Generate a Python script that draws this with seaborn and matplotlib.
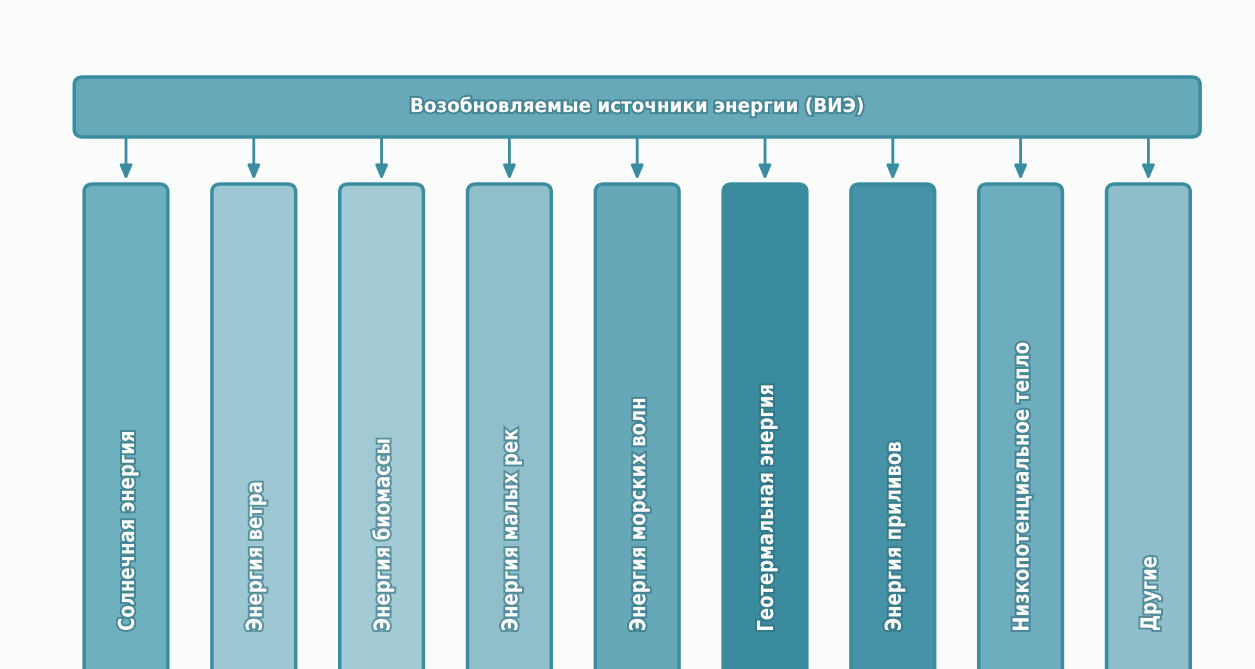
import numpy as np
import seaborn as sns
import matplotlib.pyplot as plt
from matplotlib.patches import FancyBboxPatch, PathPatch
from matplotlib.textpath import TextPath
from matplotlib.font_manager import FontProperties
from matplotlib.transforms import Affine2D
import matplotlib.patheffects as pe

# Diagram content
title = 'Возобновляемые источники энергии (ВИЭ)'
sources = ['Солнечная энергия', 'Энергия ветра', 'Энергия биомассы',
           'Энергия малых рек', 'Энергия морских волн', 'Геотермальная энергия',
           'Энергия приливов', 'Низкопотенциальное тепло', 'Другие']
box_colors = ['#6fb0bf', '#9dc8d3', '#a2cad5', '#90bfcb', '#66a8b8',
              '#3a8b9e', '#4692a6', '#6dadbd', '#8dbeca']

sns.set_theme(style='white')
plt.rcParams['font.family'] = ['DejaVu Sans']

W, H = 1255, 669
fig = plt.figure(figsize=(W / 100, H / 100), dpi=100)
fig.patch.set_facecolor('#fbfdfd')
ax = fig.add_axes([0, 0, 1, 1])
ax.set_facecolor('#fbfdfd')

# x in category units (one step per box), y in pixels from the top
step = 127.8
ax.set_xlim(-126 / step, (W - 126) / step)
ax.set_ylim(H, 0)
ax.axis('off')

edge = '#3b8c9e'
glow = [pe.withStroke(linewidth=2.8, foreground='#2c6d7c', alpha=0.6)]
bold = FontProperties(family='DejaVu Sans', weight='bold')


def squeezed_text(s, x, y, size, sx, rot=0, ha='left'):
    """white text drawn as a path, narrowed by sx (condensed look)"""
    tp = TextPath((0, 0), s, size=size, prop=bold)
    ext = tp.get_extents()
    cap = 0.729 * size
    dx = -ext.x0 if ha == 'left' else -(ext.x0 + ext.x1) / 2
    px, py = ax.transData.transform((x, y))
    tr = (Affine2D().translate(dx, -cap / 2).scale(sx, 1)
          .rotate_deg(rot).translate(px, py))
    ax.add_patch(PathPatch(tr.transform_path(tp), fc='white', ec='none',
                           transform=None, path_effects=glow, zorder=5))


# header bar
hdr = FancyBboxPatch((-0.405, 77), 8.81, 60,
                     boxstyle='round,pad=0,rounding_size=0.07',
                     mutation_aspect=110, fc='#67a9b9', ec=edge, lw=2.5)
ax.add_patch(hdr)
squeezed_text(title, 4, 105, 19.5, 0.94, ha='center')

w = 0.655
for i, (name, col) in enumerate(zip(sources, box_colors)):
    # arrow from header to box
    ax.annotate('', xy=(i, 180), xytext=(i, 138),
                arrowprops=dict(arrowstyle='-|>,head_length=0.7,head_width=0.3',
                                color=edge, lw=2, shrinkA=0, shrinkB=0))
    box = FancyBboxPatch((i - w / 2, 184), w, 520,
                         boxstyle='round,pad=0,rounding_size=0.07',
                         mutation_aspect=110, fc=col, ec=edge, lw=2.5)
    ax.add_patch(box)
    squeezed_text(name, i, 630, 22, 0.82, rot=90)

fig.savefig('out.png', dpi=100, facecolor=fig.get_facecolor())
